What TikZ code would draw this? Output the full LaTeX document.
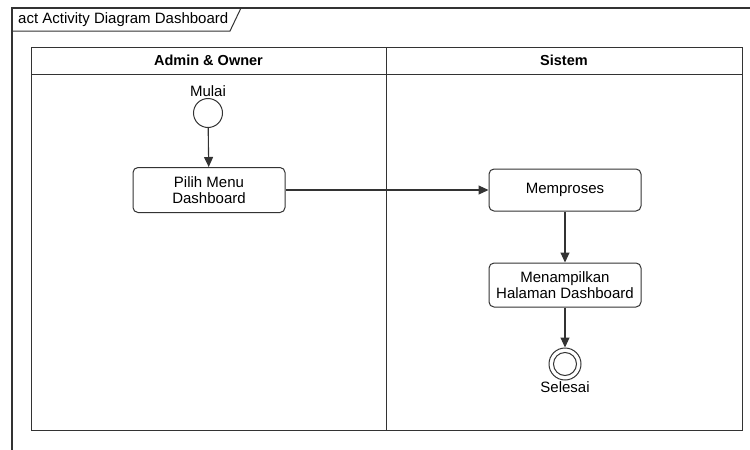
\documentclass[tikz,border=0pt]{standalone}
\usepackage{fontspec}
\setmainfont{Liberation Sans}
\usetikzlibrary{arrows.meta}
\definecolor{ln}{HTML}{333333}
\tikzset{
  act/.style={draw=ln, line width=1pt, rounded corners=5pt, minimum width=152pt, align=center, font=\fontsize{15}{15.5}\selectfont},
  flow/.style={draw=ln, line width=1.1pt, -{Triangle[length=10pt,width=9pt]}},
  lane/.style={draw=ln, line width=0.9pt},
  hdr/.style={font=\fontsize{14.5}{15}\selectfont\bfseries},
  lbl/.style={font=\fontsize{15}{15.5}\selectfont}
}
\begin{document}
\begin{tikzpicture}[x=1pt,y=-1pt]
\useasboundingbox (0,0) rectangle (750,450);
% outer frame
\draw[ln, line width=1.6pt] (12,450) -- (12,8) -- (750,8);
\draw[ln, line width=1pt] (12,31) -- (230,31) -- (241,8);
\node[lbl, anchor=west, inner sep=0pt] (title) at (18,20) {act Activity Diagram Dashboard};
% swimlanes
\draw[lane] (31,47) rectangle (742,430);
\draw[lane] (31,74) -- (742,74);
\draw[lane] (386,47) -- (386,430);
\node[hdr] (h1) at (208.5,60.5) {Admin \& Owner};
\node[hdr] (h2) at (564,60.5) {Sistem};
% nodes
\node[draw=ln, line width=1pt, circle, minimum size=29pt, inner sep=0pt] (start) at (208,113) {};
\node[lbl, anchor=south, inner sep=1pt] (mulai) at (start.north) {Mulai};
\node[act, minimum height=45pt] (pilih) at (209,190) {Pilih Menu\\Dashboard};
\node[act, minimum height=42pt] (proses) at (565,190) {Memproses};
\node[act, minimum height=44pt] (tampil) at (565,285) {Menampilkan\\Halaman Dashboard};
\node[draw=ln, line width=1pt, circle, minimum size=32pt, inner sep=0pt] (end) at (565,364) {};
\node[draw=ln, line width=1pt, circle, minimum size=23pt, inner sep=0pt] (endin) at (end) {};
\node[lbl, anchor=north, inner sep=1pt] (selesai) at (end.south) {Selesai};
% flows
\draw[flow] (start) -- (pilih);
\draw[flow] (pilih) -- (proses);
\draw[flow] (proses) -- (tampil);
\draw[flow] (tampil) -- (end);
\end{tikzpicture}
\end{document}
